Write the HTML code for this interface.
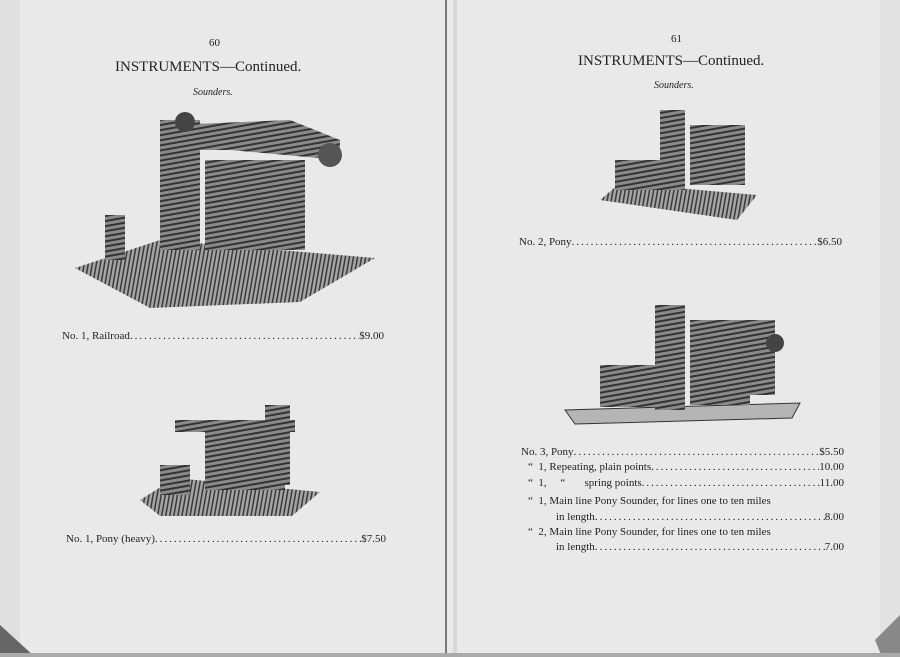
<!DOCTYPE html>
<html><head><meta charset="utf-8"><style>
*{margin:0;padding:0}
body{width:900px;height:657px;overflow:hidden;background:#e9e9e9;position:relative;font-family:"Liberation Serif",serif;color:#222}
.t{position:absolute;white-space:nowrap}
.row{position:absolute;display:flex;font-size:11px;white-space:nowrap;overflow:hidden}
.row .d{flex:1;overflow:hidden;letter-spacing:2px}
.row .d::after{content:"....................................................................................................................................................";}
</style></head><body>
<svg width="900" height="657" style="position:absolute;left:0;top:0">
<defs>
<pattern id="s" width="5" height="5" patternUnits="userSpaceOnUse" patternTransform="rotate(80)"><rect width="5" height="5" fill="#8a8a8a"/><rect width="2" height="5" fill="#333"/></pattern>
<pattern id="s2" width="4" height="4" patternUnits="userSpaceOnUse" patternTransform="rotate(10)"><rect width="4" height="4" fill="#a5a5a5"/><rect width="1.5" height="4" fill="#3a3a3a"/></pattern>
</defs>
<rect x="0" y="0" width="20" height="657" fill="#e0e0e0"/>
<rect x="880" y="0" width="20" height="657" fill="#e2e2e2"/>
<line x1="446" y1="0" x2="446" y2="657" stroke="#555" stroke-width="1.5"/>
<line x1="455" y1="0" x2="455" y2="657" stroke="#d8d8d8" stroke-width="4"/>
<path d="M0 625 L35 657 L0 657Z" fill="#666"/>
<path d="M900 615 L875 640 L882 657 L900 657Z" fill="#888"/>
<rect x="0" y="653" width="900" height="4" fill="#aaa"/>
<!-- railroad -->
<polygon points="75,268 160,240 375,258 300,302 150,308" fill="url(#s2)"/>
<rect x="160" y="120" width="40" height="130" fill="url(#s)"/>
<rect x="205" y="160" width="100" height="90" fill="url(#s)"/>
<polygon points="170,125 290,120 340,140 340,160 230,150 170,150" fill="url(#s)"/>
<rect x="105" y="215" width="20" height="45" fill="url(#s)"/>
<circle cx="185" cy="122" r="10" fill="#444"/><circle cx="330" cy="155" r="12" fill="#555"/>
<!-- pony heavy -->
<polygon points="140,500 175,478 320,492 292,516 160,516" fill="url(#s2)"/>
<rect x="205" y="420" width="80" height="70" fill="url(#s)"/>
<rect x="175" y="420" width="120" height="12" fill="url(#s)"/>
<rect x="265" y="405" width="25" height="80" fill="url(#s)"/>
<rect x="160" y="465" width="30" height="30" fill="url(#s)"/>
<!-- no2 pony -->
<polygon points="600,200 620,183 757,195 737,220" fill="url(#s2)"/>
<rect x="660" y="110" width="25" height="80" fill="url(#s)"/>
<rect x="690" y="125" width="55" height="60" fill="url(#s)"/>
<rect x="615" y="160" width="50" height="30" fill="url(#s)"/>
<!-- no3 pony -->
<polygon points="565,410 800,403 792,418 575,424" fill="#b5b5b5" stroke="#333"/>
<rect x="655" y="305" width="30" height="105" fill="url(#s)"/>
<rect x="690" y="320" width="60" height="85" fill="url(#s)"/>
<rect x="745" y="320" width="30" height="75" fill="url(#s)"/>
<rect x="600" y="365" width="60" height="42" fill="url(#s)"/>
<circle cx="775" cy="343" r="9" fill="#444"/>
</svg>
<div class="t" style="left:209px;top:37px;font-size:11px">60</div>
<div class="t" style="left:115px;top:59px;font-size:15px">INSTRUMENTS—Continued.</div>
<div class="t" style="left:193px;top:87px;font-size:10px;font-style:italic">Sounders.</div>
<div class="row" style="left:62px;top:330px;width:322px"><span>No. 1, Railroad</span><span class="d"></span><span>$9.00</span></div>
<div class="row" style="left:66px;top:533px;width:320px"><span>No. 1, Pony (heavy)</span><span class="d"></span><span>$7.50</span></div>
<div class="t" style="left:671px;top:33px;font-size:11px">61</div>
<div class="t" style="left:578px;top:53px;font-size:15px">INSTRUMENTS—Continued.</div>
<div class="t" style="left:654px;top:80px;font-size:10px;font-style:italic">Sounders.</div>
<div class="row" style="left:519px;top:236px;width:323px"><span>No. 2, Pony</span><span class="d"></span><span>$6.50</span></div>
<div class="row" style="left:521px;top:446px;width:323px"><span>No. 3, Pony</span><span class="d"></span><span>$5.50</span></div>
<div class="row" style="left:528px;top:461px;width:316px"><span>“ &nbsp;1, Repeating, plain points</span><span class="d"></span><span>10.00</span></div>
<div class="row" style="left:528px;top:477px;width:316px"><span>“ &nbsp;1, &nbsp;&nbsp;&nbsp;&nbsp;“ &nbsp;&nbsp;&nbsp;&nbsp;&nbsp;&nbsp;spring points</span><span class="d"></span><span>11.00</span></div>
<div class="t" style="left:528px;top:495px;font-size:11px">“ &nbsp;1, Main line Pony Sounder, for lines one to ten miles</div>
<div class="row" style="left:556px;top:511px;width:288px"><span>in length</span><span class="d"></span><span>8.00</span></div>
<div class="t" style="left:528px;top:526px;font-size:11px">“ &nbsp;2, Main line Pony Sounder, for lines one to ten miles</div>
<div class="row" style="left:556px;top:541px;width:288px"><span>in length</span><span class="d"></span><span>7.00</span></div>
</body></html>
